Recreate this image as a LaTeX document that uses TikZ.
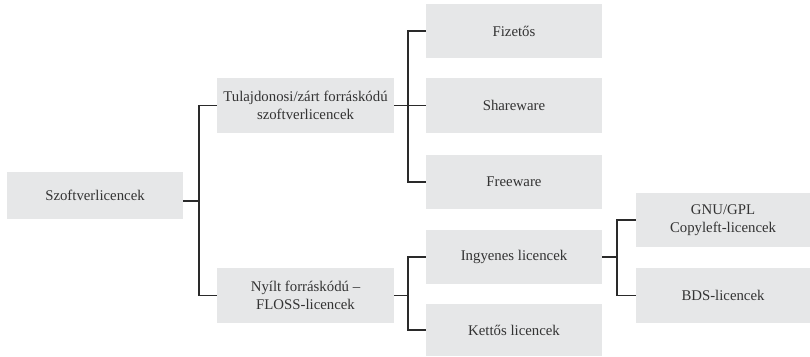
\documentclass[tikz,border=0pt]{standalone}
\usepackage{fontspec}
\setmainfont{Liberation Serif}
\definecolor{boxgray}{HTML}{E6E7E8}
\definecolor{linegray}{HTML}{2A2A2A}
\begin{document}
\begin{tikzpicture}[x=1pt,y=-1pt,
  lbox/.style={fill=boxgray, draw=none, inner sep=0pt, align=center,
    font=\fontsize{14.8}{18}\selectfont, text=black!80},
  conn/.style={draw=linegray, line width=1.1pt}]
\useasboundingbox (0,0) rectangle (810,356);
\node[lbox, minimum width=176pt, minimum height=47pt] (root) at (95,195.5) {Szoftverlicencek};
\node[lbox, minimum width=177pt, minimum height=55pt] (tul) at (305.5,105.5) {Tulajdonosi/zárt forráskódú\\szoftverlicencek};
\node[lbox, minimum width=177pt, minimum height=55pt] (nyi) at (305.5,295.5) {Nyílt forráskódú –\\FLOSS-licencek};
\node[lbox, minimum width=176pt, minimum height=54pt] (fiz) at (514,31) {Fizetős};
\node[lbox, minimum width=176pt, minimum height=55pt] (sha) at (514,105.5) {Shareware};
\node[lbox, minimum width=176pt, minimum height=54pt] (fre) at (514,182) {Freeware};
\node[lbox, minimum width=176pt, minimum height=54pt] (ing) at (514,257) {Ingyenes licencek};
\node[lbox, minimum width=176pt, minimum height=52pt] (ket) at (514,330) {Kettős licencek};
\node[lbox, minimum width=174pt, minimum height=54pt] (gnu) at (723,220) {GNU/GPL\\Copyleft-licencek};
\node[lbox, minimum width=174pt, minimum height=55pt] (bds) at (723,295.5) {BDS-licencek};
\coordinate (j1) at (199,201);
\coordinate (j3) at (408,295.5);
\coordinate (j4) at (617,257);
\draw[conn] ([yshift=-5.5pt]root.east) -- (j1);
\draw[conn] (tul.west) -| (j1) |- (nyi.west);
\draw[conn] (tul.east) -- (sha.west);
\draw[conn] (fiz.west) -| (sha.west -| j3) |- (fre.west);
\draw[conn] (nyi.east) -- (j3);
\draw[conn] (ing.west) -| (j3) |- (ket.west);
\draw[conn] (ing.east) -- (j4);
\draw[conn] (gnu.west) -| (j4) |- (bds.west);
\end{tikzpicture}
\end{document}
